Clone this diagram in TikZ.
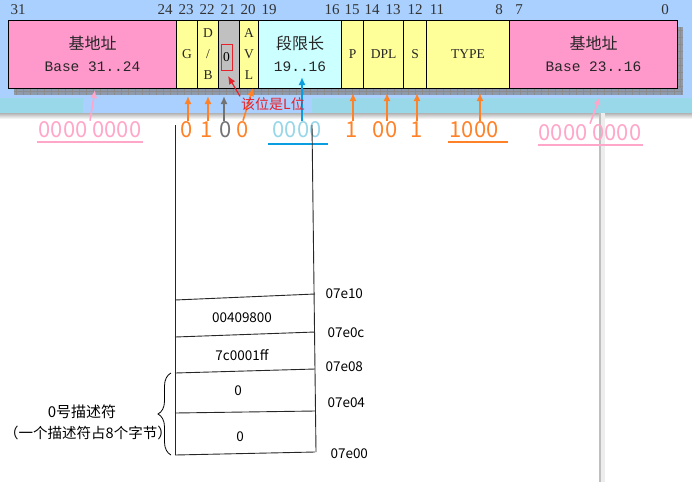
\documentclass[tikz,border=0pt]{standalone}
\usepackage{fontspec}
\setmainfont{Liberation Serif}
\setmonofont{Liberation Mono}
\newfontfamily\cjk{Noto Sans CJK SC}
\usepackage{xcolor}
\usepackage{tikz}
\usetikzlibrary{arrows.meta,decorations.pathreplacing}
\definecolor{panelblue}{HTML}{A9D0FF}
\definecolor{bandcyan}{HTML}{99D8E9}
\definecolor{gridgray}{HTML}{8E9AAC}
\definecolor{basepink}{HTML}{FF99CC}
\definecolor{flagyellow}{HTML}{FFFF99}
\definecolor{limcyan}{HTML}{CCFFFF}
\definecolor{zerogray}{HTML}{C0C0C0}
\definecolor{valorange}{HTML}{FF8228}
\definecolor{valpink}{HTML}{FFA6C9}
\definecolor{valblue}{HTML}{99D6E8}
\definecolor{arrblue}{HTML}{0A9EE0}
\definecolor{notered}{HTML}{E8202A}

\begin{document}
\begin{tikzpicture}[>=Latex, x=1pt, y=-1pt,
  fld/.style={draw, line width=1pt, inner sep=0pt, minimum height=68pt, anchor=west,
    text=black!85, font=\fontsize{13.5}{21}\selectfont, align=center},
  bitno/.style={font=\fontsize{15}{15}\selectfont, text=black!80},
  val/.style={font=\cjk\fontsize{22}{22}\selectfont, inner sep=1pt},
  uparrow/.style={-{Latex[length=8pt,width=7pt]}, line width=1.6pt},
  addr/.style={font=\cjk\fontsize{13.5}{14}\selectfont, anchor=west},
  cell/.style={font=\cjk\fontsize{13.5}{14}\selectfont}]
  \useasboundingbox (0,0) rectangle (692,482);
  \fill[panelblue] (0,0) rectangle (692,113);
  \fill[bandcyan] (0,98) rectangle (83,113);
  \fill[bandcyan] (312,98) rectangle (692,113);
  \shade[top color=black!30, bottom color=white] (0,113) rectangle (692,119);
  \draw[black!25, line width=1.5pt] (600,113) -- (600,482);
  \fill[black!7] (601,113) rectangle (605,482);
  \fill[gridgray] (14,27) rectangle (683,95);
  \foreach \x in {16,23,...,681}
    \draw[black!45, thin] (\x,88) -- (\x,95);
  \draw[black!45, thin] (14,91.5) -- (683,91.5);
  \foreach \y in {30,37,...,86}
    \draw[black!45, thin] (677,\y) -- (683,\y);
  \draw[black!45, thin] (680,27) -- (680,88);
  \foreach \x/\b in {18/31,165/24,186/23,207/22,228/21,248/20,269/19,332/16,352/15,372/14,393/13,415/12,437/11,499/8,519/7,665/0}
    \node[bitno] (bit\b) at (\x,10) {\b};
  \node[fld, fill=basepink, minimum width=168pt, font=\fontsize{14.5}{22}\selectfont] (base1) at (8,54) {{\cjk\fontsize{16}{22}\selectfont 基地址}\\{\ttfamily Base 31..24}};
  \node[fld, fill=flagyellow, minimum width=21pt] (gbit) at (176,54) {G};
  \node[fld, fill=flagyellow, minimum width=21pt] (dbbit) at (197,54) {D\\/\\B};
  \node[fld, fill=zerogray, minimum width=21pt] (lbit) at (218,54) {};
  \node[draw=notered, line width=1pt, minimum width=11pt, minimum height=26pt, inner sep=0pt,
    font=\fontsize{13.5}{13.5}\selectfont] (lzero) at (226.5,57) {0};
  \node[fld, fill=flagyellow, minimum width=19pt] (avl) at (239,54) {A\\V\\L};
  \node[fld, fill=limcyan, minimum width=83pt, font=\fontsize{14.5}{22}\selectfont] (lim) at (258,54) {{\cjk\fontsize{16}{22}\selectfont 段限长}\\{\ttfamily 19..16}};
  \node[fld, fill=flagyellow, minimum width=22pt] (pbit) at (341,54) {P};
  \node[fld, fill=flagyellow, minimum width=40pt] (dpl) at (363,54) {DPL};
  \node[fld, fill=flagyellow, minimum width=23pt] (sbit) at (403,54) {S};
  \node[fld, fill=flagyellow, minimum width=83pt] (type) at (426,54) {TYPE};
  \node[fld, fill=basepink, minimum width=168pt, font=\fontsize{14.5}{22}\selectfont] (base2) at (509,54) {{\cjk\fontsize{16}{22}\selectfont 基地址}\\{\ttfamily Base 23..16}};
  \node[val, text=valpink] (vbase1) at (90,130) {0000 0000};
  \foreach \x/\n/\t/\c in {187/vg/0/valorange, 207/vdb/1/valorange, 226/vl/0/black!55, 243/vavl/0/valorange,
    352/vp/1/valorange, 385/vdpl/00/valorange, 417/vs/1/valorange, 474/vtype/1000/valorange}
    \node[val, text=\c] (\n) at (\x,130) {\t};
  \node[val, text=valblue] (vlim) at (297,130) {0000};
  \node[val, text=valpink] (vbase2) at (590,133) {0000 0000};
  \coordinate (tbase1) at (95,90);
  \coordinate (tg) at (188,96);
  \coordinate (tdb) at (208,96);
  \coordinate (tl) at (224,96);
  \coordinate (tavl) at (253,88);
  \coordinate (tlim) at (302,77);
  \coordinate (tp) at (353,93);
  \coordinate (tdpl) at (387,93);
  \coordinate (ts) at (417,93);
  \coordinate (ttype) at (480,93);
  \coordinate (tbase2) at (600,97);
  \coordinate (tzero) at (228,76);
  \draw[uparrow, valpink] (vbase1.north) -- (tbase1);
  \draw[uparrow, valpink] (vbase2.north) -- (tbase2);
  \foreach \v/\t in {vg/tg, vdb/tdb, vp/tp, vdpl/tdpl, vs/ts, vtype/ttype}
    \draw[uparrow, valorange] (\t |- \v.north) -- (\t);
  \draw[uparrow, valorange] (vavl.north) -- (tavl);
  \draw[uparrow, black!55] (tl |- vl.north) -- (tl);
  \draw[uparrow, arrblue] (tlim |- vlim.north) -- (tlim);
  \node[font=\cjk\fontsize{14}{14}\selectfont, text=notered, inner sep=1pt] (lnote) at (273,104) {该位是L位};
  \draw[uparrow, notered, line width=1.2pt] (lnote.north west) -- (tzero);
  \draw[valpink, line width=2pt] ([yshift=-3pt]vbase1.south west) -- ([yshift=-3pt]vbase1.south east);
  \draw[valpink, line width=2pt] ([yshift=-3pt]vbase2.south west) -- ([yshift=-3pt]vbase2.south east);
  \draw[arrblue, line width=2pt] ([xshift=-3pt, yshift=-5pt]vlim.south west) -- ([xshift=5pt, yshift=-5pt]vlim.south east);
  \draw[valorange, line width=2pt] ([yshift=-3pt]vtype.south west) -- ([xshift=8pt, yshift=-3pt]vtype.south east);
  \draw[black!85, line width=0.9pt] (175,125) -- (175,455);
  \draw[black!85, line width=0.9pt] (312,125) -- (316,452);
  \foreach \n/\ly/\ry in {e10/300/294, e0c/337/332, e08/373/369, e04/413/411, e00/455/452} {
    \coordinate (\n-l) at (175,\ly);
    \coordinate (\n-r) at (315,\ry);
    \draw[black!85, line width=0.9pt] (\n-l) -- (\n-r);
  }
  \foreach \n/\x/\y in {e10/322/294, e0c/324/333, e08/322/367, e04/324/403, e00/327/454}
    \node[addr] (a\n) at (\x,\y) {07\n};
  \node[cell] (c0c) at (242,318) {00409800};
  \node[cell] (c08) at (242,355) {7c0001ff};
  \node[cell] (c04) at (238,391) {0};
  \node[cell] (c00) at (240,437) {0};
  \draw[decorate, decoration={brace, amplitude=13pt}, line width=0.8pt] ([xshift=-4pt]e00-l) -- ([xshift=-4pt]e08-l);
  \node[cell, font=\cjk\fontsize{15}{16}\selectfont] (desc) at (82,412) {0号描述符};
  \node[cell, font=\cjk\fontsize{14.5}{16}\selectfont] (descnote) at (88,433) {（一个描述符占8个字节）};
\end{tikzpicture}
\end{document}
